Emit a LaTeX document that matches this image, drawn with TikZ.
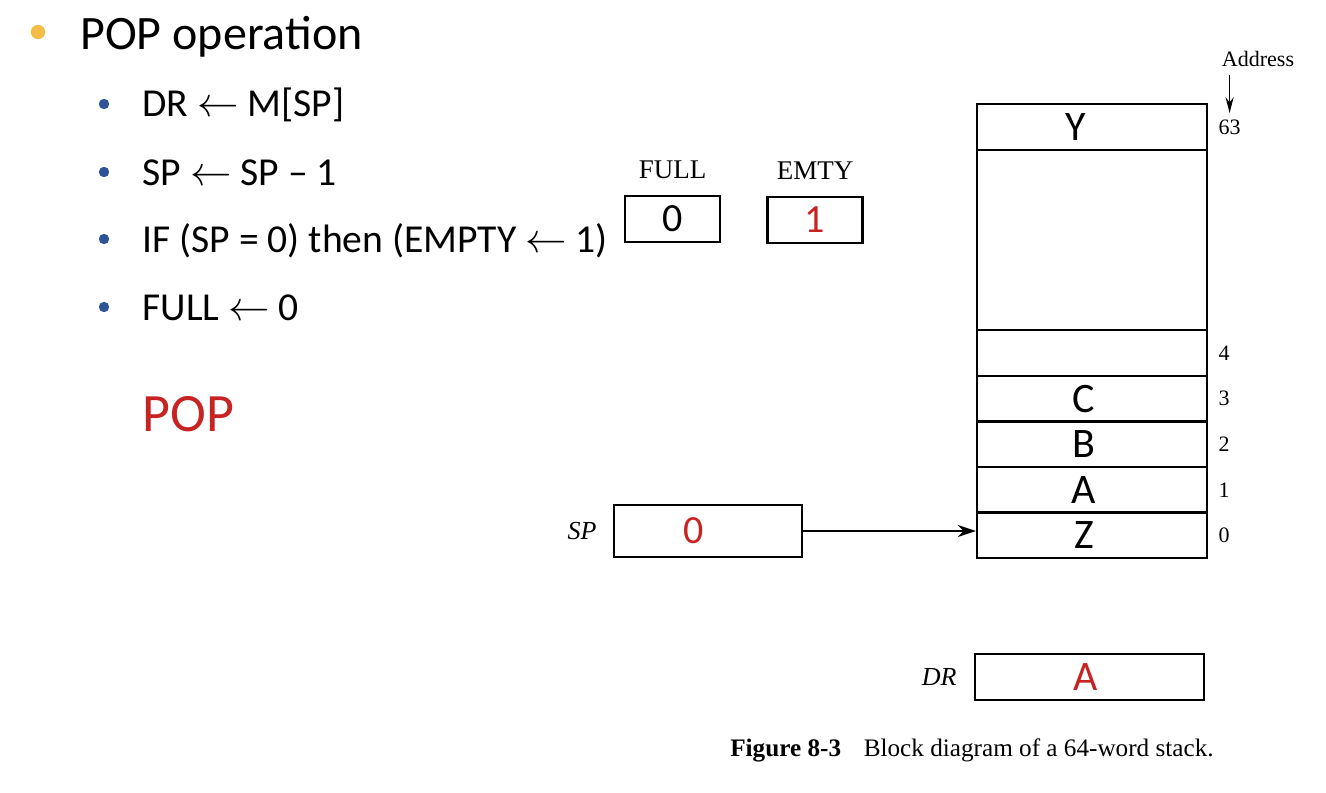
\documentclass[tikz,border=0pt]{standalone}
\usepackage{fontspec}
\usepackage{amsmath}
\setmainfont{Carlito}
\newfontfamily\bookfont{Liberation Serif}
\usetikzlibrary{positioning,arrows.meta}

\definecolor{popred}{RGB}{200,35,35}
\definecolor{dotblue}{RGB}{47,84,150}
\definecolor{dotorange}{RGB}{244,190,70}

\newcommand{\la}{\ensuremath{\leftarrow}}

\tikzset{
  reg/.style={draw, line width=1.2pt, inner sep=0pt},
  cell/.style={reg, minimum width=115pt, minimum height=22.8pt, font=\fontsize{21}{21}\selectfont},
  flag/.style={reg, minimum width=47.5pt, minimum height=23pt, font=\fontsize{20}{20}\selectfont},
  addr/.style={inner sep=0pt, font=\bookfont\fontsize{11}{11}\selectfont},
  regname/.style={inner sep=0pt, font=\bookfont\itshape\fontsize{13}{13}\selectfont},
  flagname/.style={inner sep=0pt, font=\bookfont\fontsize{13.5}{13.5}\selectfont},
  item/.style={anchor=base west, inner sep=0pt, font=\fontsize{19.8}{19.8}\selectfont},
  ptr/.style={-{Stealth[length=9pt,width=6pt]}, line width=1pt}
}

\begin{document}
\begin{tikzpicture}[x=0.5pt,y=-0.5pt]
    \useasboundingbox (0,0) rectangle (1326,792);

    % slide text
    \fill[dotorange] (38,32) circle (3.6pt);
    \node[item, font=\fontsize{24}{24}\selectfont] (title) at (80,50) {POP operation};
    \foreach \y/\txt [count=\k] in {104/{DR \la{} M[SP]}, 172/{SP \la{} SP -- 1},
        239/{IF (SP = 0) then (EMPTY \la{} 1)}, 307/{FULL \la{} 0}} {
        \fill[dotblue] (104,\y) circle (2.6pt);
        \node[item] (line\k) at (142,\y+13) {\txt};
    }
    \node[item, text=popred, font=\fontsize{27}{27}\selectfont] (pop) at (142,431) {POP};

    % flags
    \node[flag] (full) at (672.5,219) {0};
    \node[flag, text=popred] (emty) at (815,220) {1};
    \node[flagname, above=8pt of full] {FULL};
    \node[flagname, above=8pt of emty] {EMTY};

    % memory stack
    \node[cell, minimum height=23pt] (c63) at (1092,127) {Y\kern16pt};
    \node[cell, minimum height=90pt] (gap) at (1092,240) {};
    \foreach \i/\val in {0/Z,1/A,2/B,3/C,4/{}} {
        \node[cell] (c\i) at (1092,{535.4-45.6*\i}) {\val\kern8pt};
        \node[addr, right=5pt of c\i] (a\i) {\i};
    }
    \node[addr, right=5pt of c63] (a63) {63};
    \node[addr] (addrlbl) at (1258,59) {Address};
    \draw[-{Stealth[length=8pt,width=4pt]}, line width=0.8pt, shorten >=3pt]
        (a63.north |- addrlbl.south) ++(0,8) -- (a63.north);

    % stack pointer and data register
    \node[reg, minimum width=94pt, minimum height=26pt, font=\fontsize{20}{20}\selectfont, text=popred] (sp) at (708,531) {0\kern14pt};
    \node[regname, left=8pt of sp] {SP};
    \draw[ptr] (sp.east) -- (sp.east -| c0.west);

    \node[reg, minimum width=114.5pt, minimum height=23pt, font=\fontsize{21}{21}\selectfont, text=popred] (dr) at (1089.5,677) {A\kern4pt};
    \node[regname, left=8.5pt of dr] {DR};

    \node[inner sep=0pt, anchor=base, font=\bookfont\fontsize{12.6}{12.6}\selectfont] (cap) at (972,756)
        {\textbf{Figure 8-3}\hspace{0.9em}Block diagram of a 64-word stack.};
\end{tikzpicture}
\end{document}
